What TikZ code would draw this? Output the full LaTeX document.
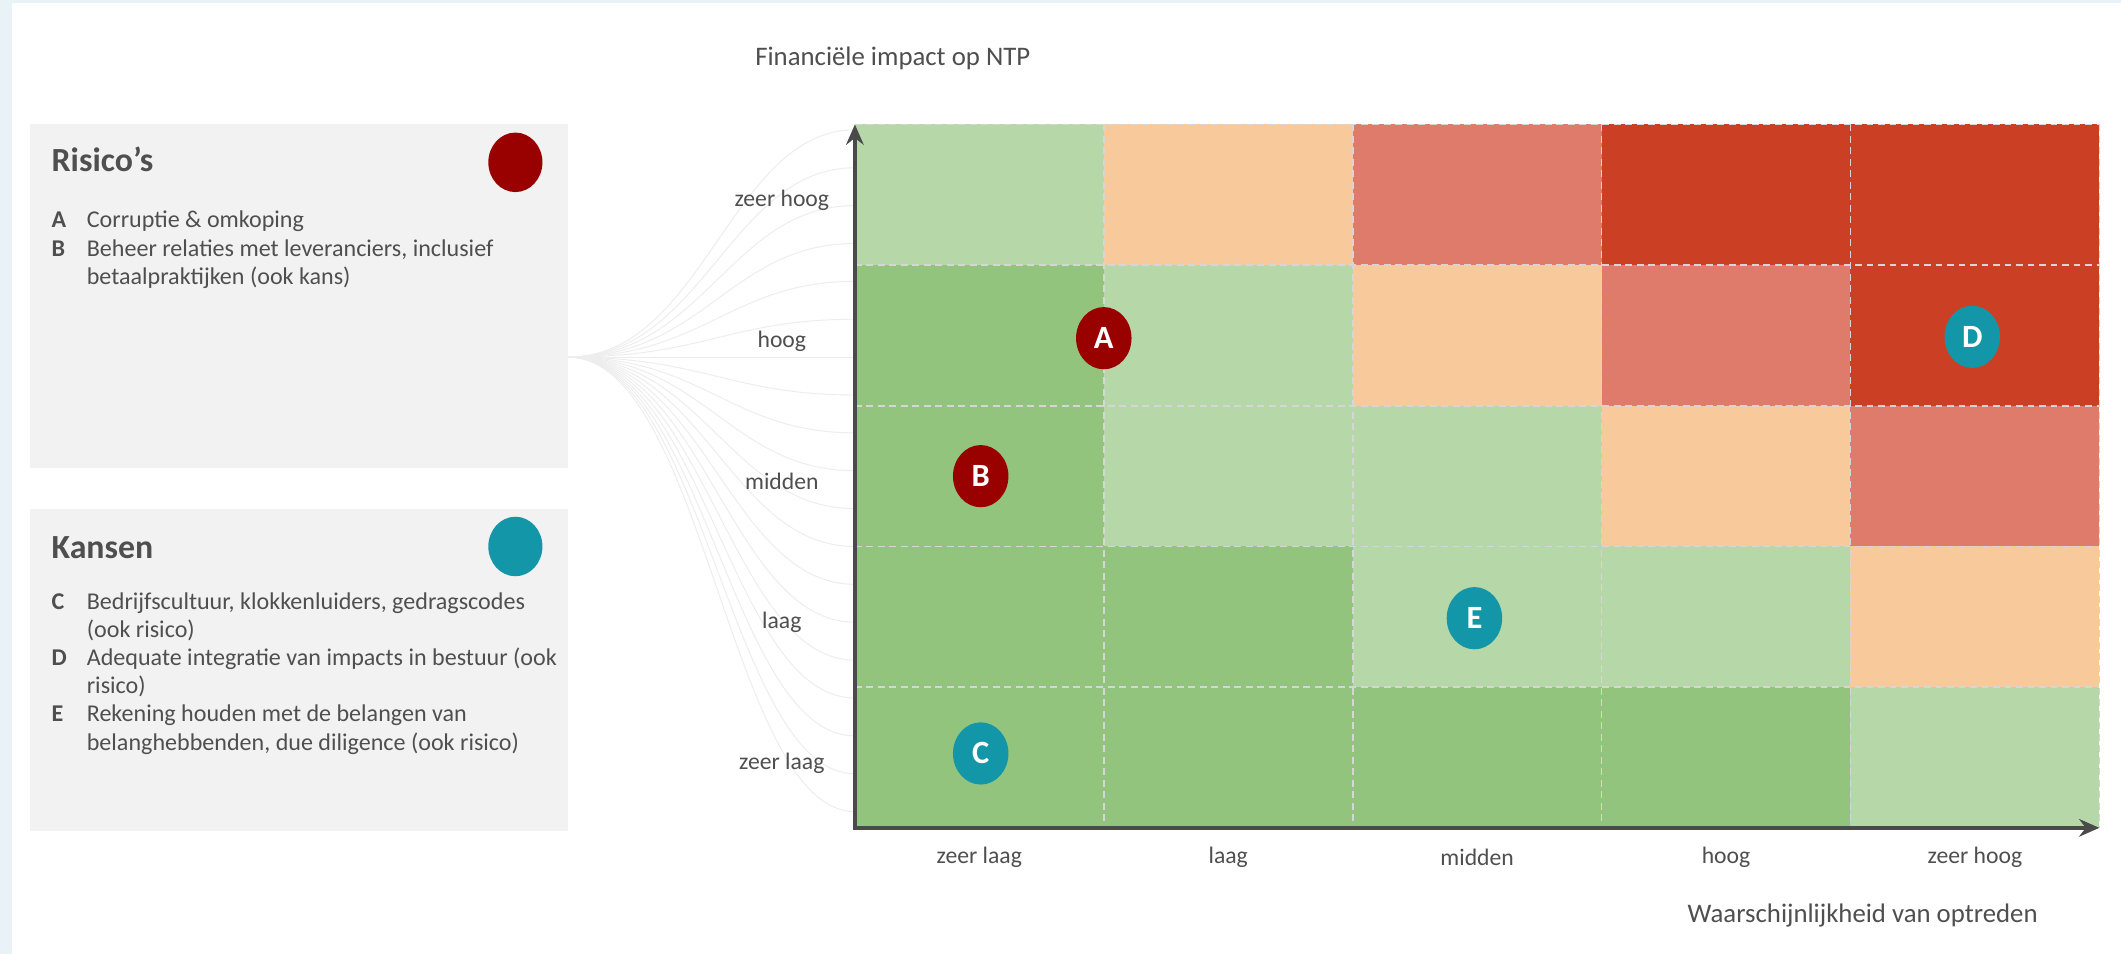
\documentclass[tikz,border=0pt]{standalone}
\usepackage{fontspec}
\setmainfont{Carlito}
\usetikzlibrary{arrows.meta,shapes.geometric,positioning}

\definecolor{greenlight}{HTML}{B6D7A8}
\definecolor{greendark}{HTML}{93C47D}
\definecolor{peach}{HTML}{F8CA9B}
\definecolor{salmon}{HTML}{DE7B6A}
\definecolor{redcell}{HTML}{CB4024}
\definecolor{riskred}{HTML}{990000}
\definecolor{chanceteal}{HTML}{1397A8}
\definecolor{boxgray}{HTML}{F2F2F2}
\definecolor{axisgray}{HTML}{4A4A4A}
\definecolor{textgray}{HTML}{4F4F4F}
\definecolor{dashgray}{HTML}{D6D6D6}
\definecolor{edgeblue}{HTML}{E9F2F6}
\definecolor{swooshgray}{HTML}{EDEDED}

\tikzset{
  celldash/.style={draw=dashgray, line width=1.3pt, dash pattern=on 5pt off 3.5pt},
  axis/.style={draw=axisgray, line width=2.6pt, line join=miter},
  swoosh/.style={draw=swooshgray, line width=0.7pt},
  marker/.style={ellipse, minimum width=41pt, minimum height=46pt, inner sep=0pt,
    text=white, font=\fontsize{24}{26}\selectfont\bfseries},
  dot/.style={ellipse, minimum width=40pt, minimum height=44pt, inner sep=0pt},
  legendbox/.style={fill=boxgray, minimum width=398pt, inner sep=0pt},
  boxtitle/.style={anchor=base west, inner sep=0pt, text=textgray,
    font=\fontsize{25}{28}\selectfont\bfseries},
  itemlist/.style={anchor=base west, inner sep=0pt, text=textgray,
    font=\fontsize{17.8}{20.8}\selectfont},
  tick/.style={text=textgray, font=\fontsize{17.5}{19}\selectfont},
  axistitle/.style={text=textgray, font=\fontsize{19.8}{22}\selectfont}
}

\begin{document}
\begin{tikzpicture}[x=1pt,y=-1pt]
  \useasboundingbox (0,0) rectangle (1568,705);
  \fill[white] (0,0) rectangle (1568,705);
  \fill[edgeblue] (0,0) rectangle (9,705);
  \fill[edgeblue] (0,0) rectangle (1568,2);
  \foreach \y in {96,124,...,600}
    \draw[swoosh] (420,264) .. controls (520,264) and (540,\y) .. (632,\y);

  \node[legendbox, minimum height=254pt] (risbox) at (221,219) {};
  \node[legendbox, minimum height=238pt] (kansbox) at (221,495) {};
  \node[dot, fill=riskred] (risdot) at (381,120) {};
  \node[dot, fill=chanceteal] (kansdot) at (381,404) {};
  \node[boxtitle] (ristitle) at (38,127) {Risico's};
  \node[boxtitle] (kanstitle) at (38,413) {Kansen};
  \node[itemlist] (risitems) at (38,168.5) {\begin{tabular}[t]{@{}p{26pt}@{}l@{}}
    \textbf{A} & Corruptie \& omkoping\\
    \textbf{B} & Beheer relaties met leveranciers, inclusief\\
      & betaalpraktijken (ook kans)
  \end{tabular}};
  \node[itemlist] (kansitems) at (38,450.5) {\begin{tabular}[t]{@{}p{26pt}@{}l@{}}
    \textbf{C} & Bedrijfscultuur, klokkenluiders, gedragscodes\\
      & (ook risico)\\
    \textbf{D} & Adequate integratie van impacts in bestuur (ook\\
      & risico)\\
    \textbf{E} & Rekening houden met de belangen van\\
      & belanghebbenden, due diligence (ook risico)
  \end{tabular}};

  \foreach \r/\ca/\cb/\cc/\cd/\ce in {0/greenlight/peach/salmon/redcell/redcell,
      1/greendark/greenlight/peach/salmon/redcell,
      2/greendark/greenlight/greenlight/peach/salmon,
      3/greendark/greendark/greenlight/greenlight/peach,
      4/greendark/greendark/greendark/greendark/greenlight}
    \foreach \i/\c in {0/\ca,1/\cb,2/\cc,3/\cd,4/\ce}
      \fill[\c] ({632+184*\i},{92+104*\r}) rectangle ++(184,104);
  \foreach \k in {1,...,5}
    \draw[celldash] ({632+184*\k},92) -- ({632+184*\k},612);
  \foreach \k in {0,...,4}
    \draw[celldash] (632,{92+104*\k}) -- (1552,{92+104*\k});

  \coordinate (ytop) at (632,92);
  \coordinate (orig) at (632,612);
  \coordinate (xend) at (1552,612);
  \draw[axis, {Stealth[length=15pt,width=13pt,inset=5pt]}-{Stealth[length=15pt,width=13pt,inset=5pt]}]
    (ytop) -- (orig) -- (xend);

  \foreach \t [count=\i from 0] in {zeer hoog,hoog,midden,laag,zeer laag}
    \node[tick] (ly\i) at (578,{148+104*\i}) {\t};
  \foreach \t [count=\i from 0] in {zeer laag,laag,midden,hoog,zeer hoog}
    \node[tick] (lx\i) at ({724+184*\i},634) {\t};
  \node[axistitle] (ytitle) at (660,43) {Financiële impact op NTP};
  \node[axistitle] (xtitle) at (1377,677) {Waarschijnlijkheid van optreden};

  \node[marker, fill=riskred] (mA) at (816,250) {A};
  \node[marker, fill=riskred] (mB) at (725,352) {B};
  \node[marker, fill=chanceteal] (mC) at (725,557) {C};
  \node[marker, fill=chanceteal] (mD) at (1458,249) {D};
  \node[marker, fill=chanceteal] (mE) at (1090,457) {E};
\end{tikzpicture}
\end{document}
